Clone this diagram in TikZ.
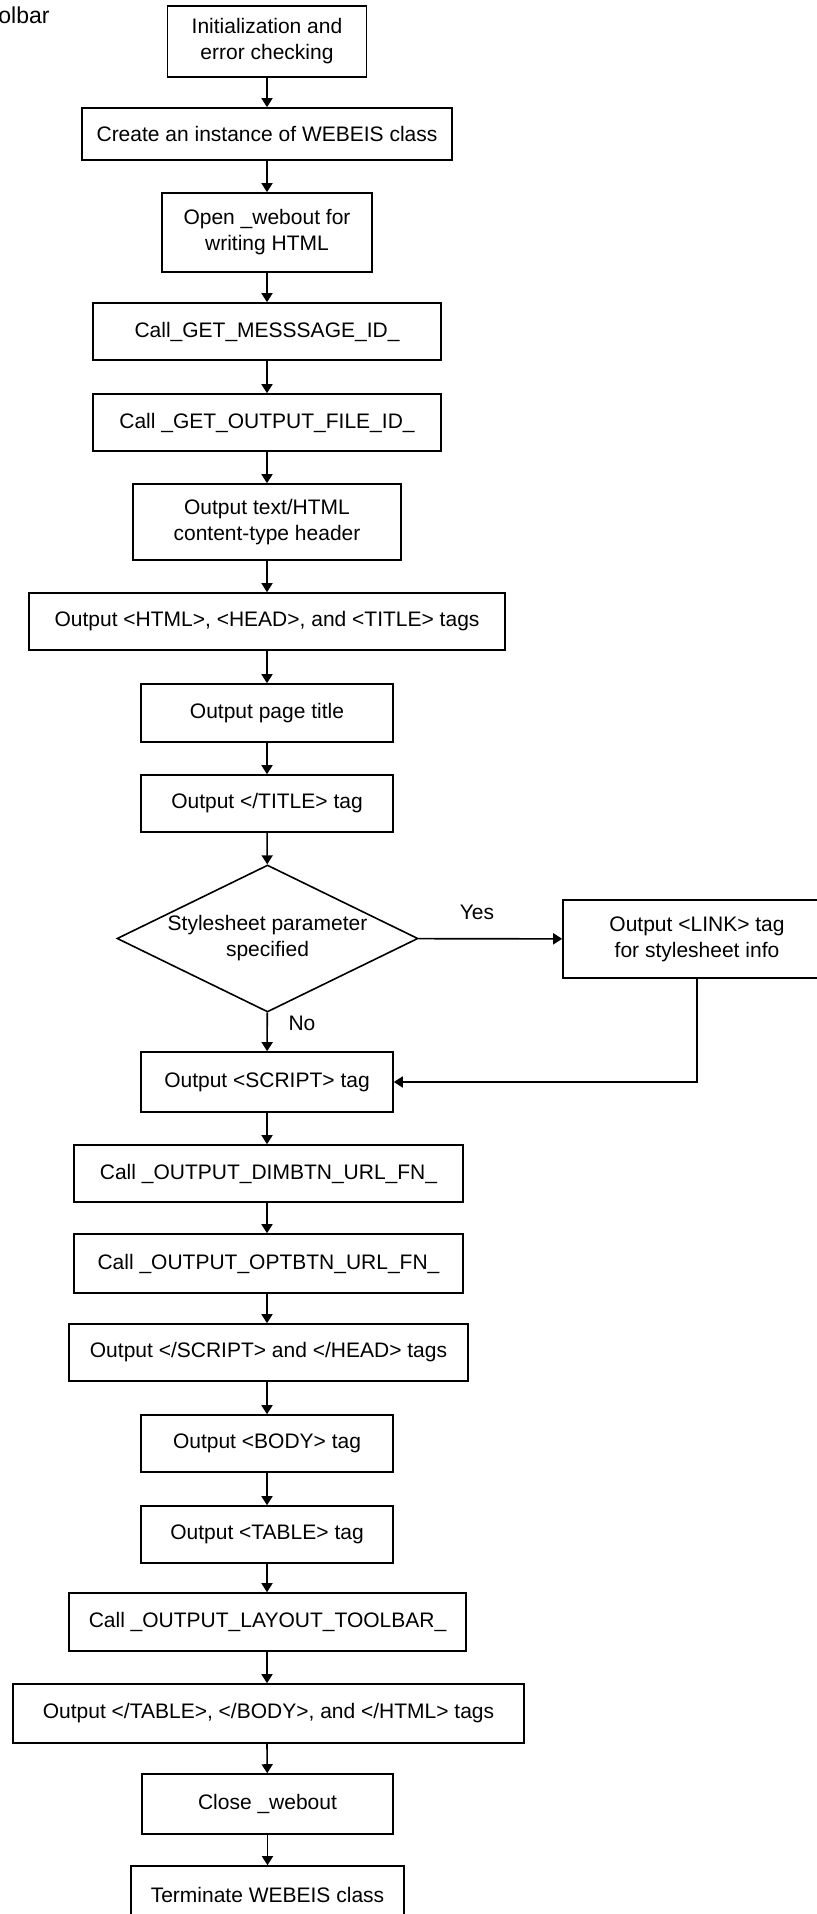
\documentclass[tikz,border=0pt]{standalone}
\usepackage{fontspec}
\setmainfont{Liberation Sans}
\usetikzlibrary{shapes.geometric, arrows.meta}

\tikzset{
  procbox/.style={draw, line width=0.8pt, inner sep=0pt, align=center, font=\fontsize{10.5}{13}\selectfont},
  taskbox/.style 2 args={procbox, minimum width=#1, minimum height=#2},
  decision/.style={draw, diamond, aspect=2, line width=0.8pt, inner sep=0pt, align=center, font=\fontsize{10.5}{13}\selectfont},
  flowarrow/.style={line width=0.8pt, -{Triangle[length=4.5pt,width=5.5pt]}},
  flowlabel/.style={inner sep=0pt, font=\fontsize{10.5}{13}\selectfont}
}

\begin{document}
\begin{tikzpicture}[x=0.5pt, y=-0.5pt]
\clip (0,0) rectangle (817,1914);
% cut-off caption
\node[flowlabel, anchor=west, font=\fontsize{11.5}{13}\selectfont] (cap) at (-2,15) {olbar};
% main column
\node[taskbox={99.5pt}{35.5pt}] (init) at (267,41.5) {Initialization and\\error checking};
\node[taskbox={185pt}{26pt}] (create) at (267,134) {Create an instance of WEBEIS class};
\node[taskbox={105pt}{39.5pt}] (open) at (267,232.5) {Open \_webout for\\writing HTML};
\node[taskbox={174pt}{28.5pt}] (msgid) at (267,331.5) {Call\_GET\_MESSSAGE\_ID\_};
\node[taskbox={174pt}{28.5pt}] (fileid) at (267,422.5) {Call \_GET\_OUTPUT\_FILE\_ID\_};
\node[taskbox={134pt}{38pt}] (ctype) at (267,522) {Output text/HTML\\content-type header};
\node[taskbox={238pt}{28.5pt}] (htmltags) at (267,621.5) {Output <HTML>, <HEAD>, and <TITLE> tags};
\node[taskbox={126pt}{29pt}] (title) at (267,713) {Output page title};
\node[taskbox={126pt}{28.5pt}] (endtitle) at (267,803.5) {Output </TITLE> tag};
% decision and side branch
\node[decision, minimum width=150.5pt, minimum height=73.5pt] (sheet) at (267.5,938.5) {Stylesheet parameter\\specified};
\node[taskbox={134pt}{39pt}] (link) at (697,939) {Output <LINK> tag\\for stylesheet info};
\node[taskbox={126pt}{30pt}] (script) at (267,1082) {Output <SCRIPT> tag};
\node[taskbox={194.5pt}{28.5pt}] (dimbtn) at (268.5,1173.5) {Call \_OUTPUT\_DIMBTN\_URL\_FN\_};
\node[taskbox={194.5pt}{29.5pt}] (optbtn) at (268.5,1263.5) {Call \_OUTPUT\_OPTBTN\_URL\_FN\_};
\node[taskbox={199.5pt}{28.5pt}] (endscript) at (268.5,1352.5) {Output </SCRIPT> and </HEAD> tags};
\node[taskbox={126pt}{28.5pt}] (body) at (267,1443.5) {Output <BODY> tag};
\node[taskbox={126pt}{28.5pt}] (table) at (267,1534.5) {Output <TABLE> tag};
\node[taskbox={198.5pt}{29pt}] (toolbar) at (267.5,1622) {Call \_OUTPUT\_LAYOUT\_TOOLBAR\_};
\node[taskbox={255.5pt}{29.5pt}] (endtable) at (268.5,1713.5) {Output </TABLE>, </BODY>, and </HTML> tags};
\node[taskbox={125.5pt}{30pt}] (close) at (267.5,1804) {Close \_webout};
\node[taskbox={136.5pt}{29pt}] (term) at (267.5,1895) {Terminate WEBEIS class};
% branch labels
\node[flowlabel] (yes) at (477,912) {Yes};
\node[flowlabel] (no) at (302,1023) {No};
% connectors
\draw[flowarrow] (init) -- (create);
\draw[flowarrow] (create) -- (open);
\draw[flowarrow] (open) -- (msgid);
\draw[flowarrow] (msgid) -- (fileid);
\draw[flowarrow] (fileid) -- (ctype);
\draw[flowarrow] (ctype) -- (htmltags);
\draw[flowarrow] (htmltags) -- (title);
\draw[flowarrow] (title) -- (endtitle);
\draw[flowarrow] (endtitle) -- (sheet);
\draw[flowarrow] (sheet) -- (link);
\draw[flowarrow] (sheet) -- (script);
\draw[flowarrow] (link.south) |- (script.east);
\draw[flowarrow] (script) -- (dimbtn.north -| script);
\draw[flowarrow] (dimbtn.south -| script) -- (optbtn.north -| script);
\draw[flowarrow] (optbtn.south -| script) -- (endscript.north -| script);
\draw[flowarrow] (endscript.south -| script) -- (body);
\draw[flowarrow] (body) -- (table);
\draw[flowarrow] (table) -- (toolbar.north -| table);
\draw[flowarrow] (toolbar.south -| table) -- (endtable.north -| table);
\draw[flowarrow] (endtable.south -| table) -- (close);
\draw[flowarrow] (close) -- (term.north -| close);
\end{tikzpicture}
\end{document}
